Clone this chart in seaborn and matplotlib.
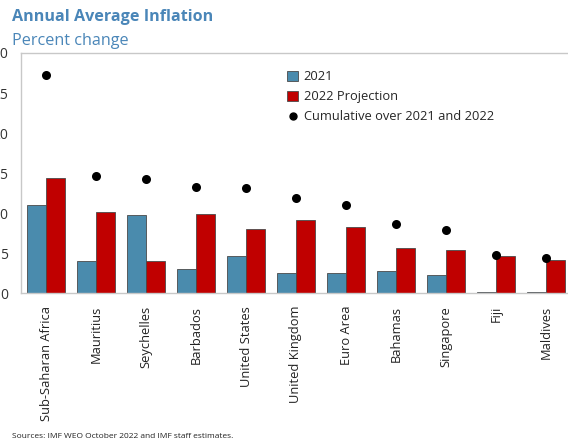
import matplotlib
matplotlib.use("Agg")
import matplotlib.pyplot as plt
import seaborn as sns
import pandas as pd
import numpy as np
from matplotlib.patches import Patch
from matplotlib.lines import Line2D

countries = ["Sub-Saharan Africa", "Mauritius", "Seychelles", "Barbados",
             "United States", "United Kingdom", "Euro Area", "Bahamas",
             "Singapore", "Fiji", "Maldives"]
infl_2021 = [11.0, 4.0, 9.75, 3.0, 4.6, 2.5, 2.5, 2.8, 2.25, 0.1, 0.2]
infl_2022 = [14.4, 10.1, 4.0, 9.9, 8.0, 9.1, 8.25, 5.6, 5.45, 4.7, 4.2]
cumulative = [27.2, 14.6, 14.25, 13.3, 13.1, 11.95, 11.0, 8.65, 7.9, 4.8, 4.45]
y_ticks = [0, 5, 10, 15, 20, 25, 30]

BLUE = "#4A8BAD"
RED = "#C00000"
TITLE_BLUE = "#4A86B8"
GRID_GRAY = "#C8C8C8"

sns.set_style("white")
plt.rcParams["font.family"] = ["Open Sans", "DejaVu Sans"]

df = pd.DataFrame({
    "country": countries * 2,
    "value": infl_2021 + infl_2022,
    "series": ["2021"] * len(countries) + ["2022 Projection"] * len(countries),
})

fig = plt.figure(figsize=(5.68, 4.46), dpi=100)
ax = fig.add_axes([21 / 568, (446 - 293.3) / 446, 550 / 568, (293.3 - 53) / 446])

sns.barplot(data=df, x="country", y="value", hue="series", order=countries,
            palette={"2021": BLUE, "2022 Projection": RED}, saturation=1,
            width=0.76, gap=0, edgecolor="#4a4a4a", linewidth=0.6,
            legend=False, ax=ax)
sns.stripplot(x=countries, y=cumulative, order=countries, jitter=False,
              color="black", size=6.5, ax=ax, zorder=5)

ax.set_xlim(-0.5, len(countries) - 0.5)
ax.set_ylim(0, 30)
ax.set_yticks(y_ticks)
ax.set_xlabel("")
ax.set_ylabel("")

for side in ["left", "top", "bottom"]:
    ax.spines[side].set_color(GRID_GRAY)
    ax.spines[side].set_linewidth(1.0)
ax.spines["right"].set_visible(False)

ax.tick_params(axis="y", direction="in", length=4, color=GRID_GRAY,
               labelsize=10, labelcolor="#333333", pad=9)
ax.tick_params(axis="x", which="major", length=0, labelsize=9.3,
               labelcolor="#222222", pad=9, labelrotation=90)
ax.set_xticks(np.arange(len(countries)) + 0.5, minor=True)
ax.tick_params(axis="x", which="minor", direction="in", length=4,
               color=GRID_GRAY)

handles = [
    Patch(facecolor=BLUE, edgecolor="#4a4a4a", linewidth=0.6, label="2021"),
    Patch(facecolor=RED, edgecolor="#4a4a4a", linewidth=0.6, label="2022 Projection"),
    Line2D([], [], marker="o", color="black", linestyle="", markersize=5,
           label="Cumulative over 2021 and 2022"),
]
ax.legend(handles=handles, loc="upper left", bbox_to_anchor=(0.475, 0.95),
          frameon=False, fontsize=9.3, handlelength=0.8, handleheight=0.8,
          handletextpad=0.45, labelspacing=0.55, borderaxespad=0)

fig.text(12 / 568, 1 - 17 / 446, "Annual Average Inflation", fontsize=11.6,
         fontweight="bold", color=TITLE_BLUE, va="center", ha="left")
fig.text(12 / 568, 1 - 41 / 446, "Percent change", fontsize=11.6,
         color=TITLE_BLUE, va="center", ha="left")
fig.text(12 / 568, 1 - 437 / 446, "Sources: IMF WEO October 2022 and IMF staff estimates.",
         fontsize=6.0, color="#222222", va="center", ha="left")

fig.savefig("out.png", dpi=100)
